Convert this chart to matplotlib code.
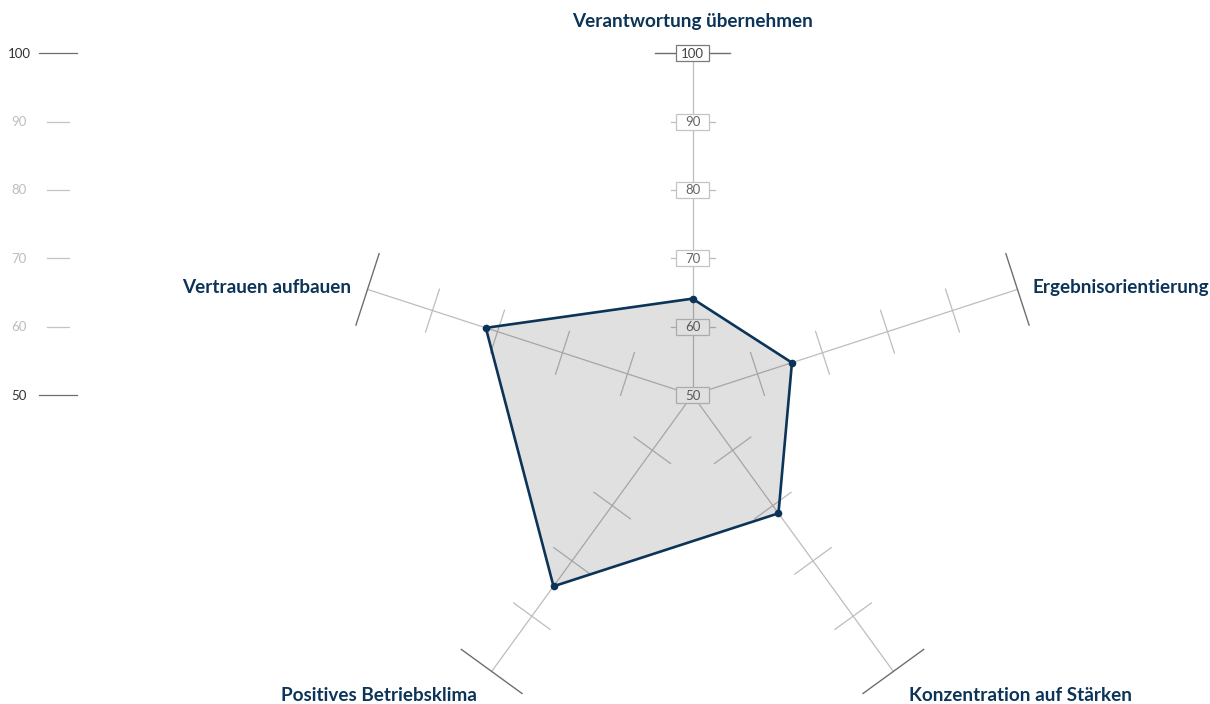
import numpy as np
import matplotlib
matplotlib.use("Agg")
import matplotlib.pyplot as plt
from matplotlib.patches import Rectangle, Polygon

# ---- data ----
categories = ["Verantwortung übernehmen", "Ergebnisorientierung",
              "Konzentration auf Stärken", "Positives Betriebsklima",
              "Vertrauen aufbauen"]
values = [64.1, 65.3, 71.4, 84.6, 81.8]
scale_ticks = [50, 60, 70, 80, 90, 100]
scale_min, scale_max = 50, 100

# ---- style / layout ----
W, H = 1210, 704
NAVY = "#0c3458"
AX_GRAY = "#bdbdbd"
DARK_GRAY = "#6e6e6e"
FONT = "Lato"
cx, cy = 692.5, 395.0
R = 341.7  # radius of max value in px

fig = plt.figure(figsize=(W / 100, H / 100), dpi=100)
ax = fig.add_axes([0, 0, 1, 1])
ax.set_xlim(0, W)
ax.set_ylim(H, 0)
ax.axis("off")

n = len(categories)
angles = [np.deg2rad(90 - 72 * i) for i in range(n)]


def rad(v):
    return (v - scale_min) / (scale_max - scale_min) * R


def pt(v, a):
    r = rad(v)
    return cx + r * np.cos(a), cy - r * np.sin(a)


# axes lines and ticks
for i, a in enumerate(angles):
    x0, y0 = pt(scale_min, a)
    x1, y1 = pt(scale_max, a)
    ax.plot([x0, x1], [y0, y1], color=AX_GRAY, lw=0.9, zorder=1)
    px, py = -np.sin(a), -np.cos(a)  # perpendicular (screen coords)
    for t in scale_ticks[1:]:
        tx, ty = pt(t, a)
        if t == scale_max:
            hl, col, lw = 37.5, DARK_GRAY, 1.0
        else:
            hl, col, lw = 22.5, AX_GRAY, 0.9
        if i == 0 and t != scale_max:
            hl = 22
        ax.plot([tx - hl * px, tx + hl * px], [ty - hl * py, ty + hl * py],
                color=col, lw=lw, zorder=1)

# boxed labels on the top axis
a0 = angles[0]
for t in scale_ticks:
    tx, ty = pt(t, a0)
    ec = "#7a7a7a" if t == scale_max else "#c4c4c4"
    tc = "#444444" if t == scale_max else "#666666"
    ax.add_patch(Rectangle((tx - 16.5, ty - 8), 33, 16, facecolor="white",
                           edgecolor=ec, lw=0.9, zorder=2))
    ax.text(tx, ty + 0.5, str(t), ha="center", va="center", fontsize=9.5,
            color=tc, family=FONT, zorder=3)

# data polygon
poly_pts = [pt(v, a) for v, a in zip(values, angles)]
ax.add_patch(Polygon(poly_pts, closed=True, facecolor=(0, 0, 0, 0.12),
                     edgecolor="none", zorder=4))
ax.add_patch(Polygon(poly_pts, closed=True, facecolor="none",
                     edgecolor=NAVY, lw=1.9, joinstyle="miter", zorder=5))
ax.scatter([p[0] for p in poly_pts], [p[1] for p in poly_pts], s=30,
           color=NAVY, zorder=6, linewidths=0)

# category labels
lab_kw = dict(fontsize=13.6, fontweight="bold", color=NAVY, family=FONT)
ex, ey = pt(scale_max, angles[0])
ax.text(ex, 21, categories[0], ha="center", va="center", **lab_kw)
ex, ey = pt(scale_max, angles[1])
ax.text(ex + 15, ey - 2, categories[1], ha="left", va="center", **lab_kw)
ex, ey = pt(scale_max, angles[2])
ax.text(ex + 16, ey + 24, categories[2], ha="left", va="center", **lab_kw)
ex, ey = pt(scale_max, angles[3])
ax.text(ex - 15, ey + 24, categories[3], ha="right", va="center", **lab_kw)
ex, ey = pt(scale_max, angles[4])
ax.text(ex - 16, ey - 2, categories[4], ha="right", va="center", **lab_kw)

# scale legend on the left
for t in scale_ticks:
    y = cy - rad(t)
    major = t in (scale_min, scale_max)
    col = "#333333" if major else "#bdbdbd"
    lcol = DARK_GRAY if major else "#c4c4c4"
    x0, x1 = (39, 77) if major else (47, 69)
    ax.plot([x0, x1], [y, y], color=lcol, lw=0.9)
    ax.text(19, y + 0.5, str(t), ha="center", va="center", fontsize=9.5,
            color=col, family=FONT)

fig.savefig("out.png", dpi=100)
